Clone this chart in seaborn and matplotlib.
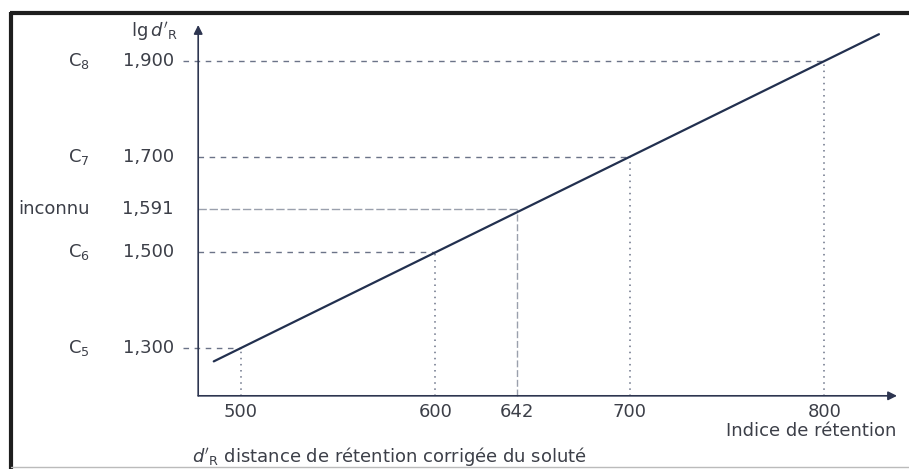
import matplotlib
matplotlib.use("Agg")
import matplotlib.pyplot as plt
from matplotlib.lines import Line2D
import seaborn as sns
import pandas as pd

# ---- data ----
std_names = ["C$_5$", "C$_6$", "C$_7$", "C$_8$"]
std_index = [500, 600, 700, 800]
std_lg = [1.300, 1.500, 1.700, 1.900]
std_lg_labels = ["1,300", "1,500", "1,700", "1,900"]
unk_name = "inconnu"
unk_index = 642
unk_lg = 1.591
unk_lg_label = "1,591"
line_x = [486, 828]
line_y = [1.272, 1.956]
x_tick_values = [500, 600, 642, 700, 800]
x_tick_labels = ["500", "600", "642", "700", "800"]

sns.set_theme(style="white")
plt.rcParams["font.family"] = ["DejaVu Sans"]
plt.rcParams["mathtext.fontset"] = "dejavusans"

W, H = 909, 469
fig = plt.figure(figsize=(W / 100, H / 100), dpi=100)
ax = fig.add_axes([0, 0, 1, 1])

# pixel <-> data mapping (x: 500 -> 241 px, 1.945 px/unit ; y: 1.300 -> 348 px, 478.3 px/unit)
X0, Y0 = 376.1, 1.047
ax.set_xlim(X0, X0 + W / 1.945)
ax.set_ylim(Y0, Y0 + H / 478.3)
ax.axis("off")

def px(p):
    return X0 + p / 1.945

def py(p):
    return 1.300 + (348 - p) / 478.3

txt = "#3c3f48"
dash_c = "#6b7388"
line_c = "#22304f"
ax_c = "#2d3550"
fs = 13

x_axis_y = 1.200
y_axis_x = 478.0

def seg(xs, ys, **kw):
    sns.lineplot(x=xs, y=ys, ax=ax, estimator=None, sort=False, legend=False, **kw)

# guide lines
for name, xi, yi in zip(std_names, std_index, std_lg):
    xstart = px(183) if yi in (std_lg[0], std_lg[-1]) else y_axis_x
    seg([xstart, xi], [yi, yi], color=dash_c, lw=1.0, linestyle=(0, (4, 4)))
    seg([xi, xi], [x_axis_y, yi], color=dash_c, lw=1.1, linestyle=(0, (1, 3)))
seg([y_axis_x, unk_index], [unk_lg, unk_lg], color="#9aa0ad", lw=1.0,
    linestyle=(0, (6, 2)))
seg([unk_index, unk_index], [x_axis_y, unk_lg], color="#9aa0ad", lw=1.0,
    linestyle=(0, (5, 2)))

# main calibration line
df = pd.DataFrame({"I": line_x, "lg": line_y})
sns.lineplot(data=df, x="I", y="lg", ax=ax, color=line_c, lw=1.6, legend=False)

# axes with arrows
arrow = dict(arrowstyle="-|>", color=ax_c, lw=1.2, mutation_scale=13, shrinkA=0, shrinkB=0)
ax.annotate("", xy=(px(897), x_axis_y), xytext=(y_axis_x, x_axis_y), arrowprops=arrow)
ax.annotate("", xy=(y_axis_x, py(25)), xytext=(y_axis_x, x_axis_y), arrowprops=arrow)

# y labels
for name, yi, lab in zip(std_names, std_lg, std_lg_labels):
    ax.text(px(174), yi, lab, ha="right", va="center", fontsize=fs, color=txt)
    ax.text(px(90), yi, name, ha="right", va="center", fontsize=fs, color=txt)
ax.text(px(174), unk_lg, unk_lg_label, ha="right", va="center", fontsize=fs, color=txt)
ax.text(px(90), unk_lg, unk_name, ha="right", va="center", fontsize=fs, color=txt)

ax.text(px(178), py(32), r"lg$\,d'_{\rm R}$", ha="right", va="center", fontsize=fs, color=txt)

# x tick labels
for xv, lab in zip(x_tick_values, x_tick_labels):
    ax.text(xv, py(412), lab, ha="center", va="center", fontsize=fs, color=txt)
ax.text(px(896), py(431), "Indice de rétention", ha="right", va="center",
        fontsize=fs, color=txt)
ax.text(px(192), py(457), r"$d'_{\rm R}$ distance de rétention corrigée du soluté",
        ha="left", va="center", fontsize=fs, color=txt)

# scanned frame
fig.add_artist(Line2D([11 / W, 11 / W], [0, 1 - 12 / H], transform=fig.transFigure,
                      color="#1e1e1e", lw=3, solid_capstyle="butt"))
fig.add_artist(Line2D([10 / W, 1], [1 - 13 / H, 1 - 13 / H], transform=fig.transFigure,
                      color="#1e1e1e", lw=3, solid_capstyle="butt"))
fig.add_artist(Line2D([11 / W, 1], [1 - 467 / H, 1 - 467 / H], transform=fig.transFigure,
                      color="#bbbbbb", lw=1))

fig.savefig("out.png", dpi=100)
